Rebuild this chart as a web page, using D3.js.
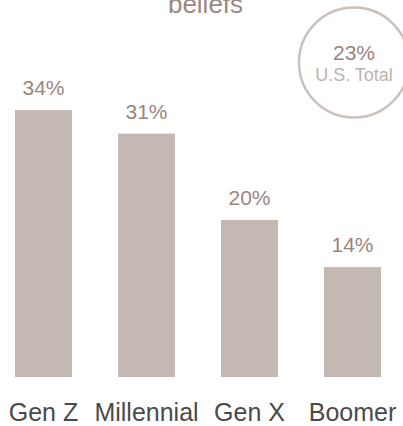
<!DOCTYPE html>
<html>
<head>
<meta charset="utf-8">
<script src="https://cdn.jsdelivr.net/npm/d3@7"></script>
<style>
  body { margin: 0; background: #fff; }
  svg { display: block; font-family: "Liberation Sans", Arial, sans-serif; }
</style>
</head>
<body>
<div id="chart"></div>
<script>
var width = 403;
var height = 426;

// chart data
var generations = ["Gen Z", "Millennial", "Gen X", "Boomer"];
var shares = [34, 31, 20, 14];
var usTotal = 23;
var titleTail = "beliefs";

var svg = d3.select("#chart")
    .append("svg")
    .attr("width", width)
    .attr("height", height);

// scales
var xScale = d3.scaleBand()
    .domain(generations)
    .range([-8, 404])
    .paddingInner(46 / 103)
    .paddingOuter(23 / 103);

var yScale = d3.scaleLinear()
    .domain([0, 40])
    .range([377, 63]);

var rows = generations.map(function(g, i) { return { name: g, value: shares[i] }; });

// title (only the last line is visible)
svg.append("text")
    .attr("x", 205.5)
    .attr("y", 13)
    .attr("text-anchor", "middle")
    .attr("fill", "#9c877f")
    .style("font-size", "26px")
    .text(titleTail);

// bars
svg.selectAll("rect.bar")
    .data(rows)
    .enter()
    .append("rect")
    .attr("class", "bar")
    .attr("x", function(d) { return xScale(d.name); })
    .attr("width", xScale.bandwidth())
    .attr("y", function(d) { return yScale(d.value); })
    .attr("height", function(d) { return yScale(0) - yScale(d.value); })
    .attr("fill", "#c4b8b3");

// value labels
svg.selectAll("text.val")
    .data(rows)
    .enter()
    .append("text")
    .attr("class", "val")
    .attr("x", function(d) { return xScale(d.name) + xScale.bandwidth() / 2; })
    .attr("y", function(d) { return yScale(d.value) - 15; })
    .attr("text-anchor", "middle")
    .attr("fill", "#9a857d")
    .style("font-size", "21px")
    .text(function(d) { return d.value + "%"; });

// category labels
var xAxis = d3.axisBottom(xScale).tickSize(0).tickPadding(0);
var axisG = svg.append("g")
    .attr("transform", "translate(0, 402)")
    .call(xAxis);
axisG.select(".domain").remove();
axisG.selectAll("text")
    .attr("dy", "0.76em")
    .attr("fill", "#4a4a4a")
    .style("font-size", "25px")
    .style("font-family", "\"Liberation Sans\", Arial, sans-serif");

// U.S. total circle
var badge = svg.append("g").attr("transform", "translate(354, 62.5)");
badge.append("circle")
    .attr("r", 55)
    .attr("fill", "none")
    .attr("stroke", "#cbc0bb")
    .attr("stroke-width", 2.5);
badge.append("text")
    .attr("y", -3)
    .attr("text-anchor", "middle")
    .attr("fill", "#9a857d")
    .style("font-size", "21px")
    .text(usTotal + "%");
badge.append("text")
    .attr("y", 18.5)
    .attr("text-anchor", "middle")
    .attr("fill", "#bfb2ac")
    .style("font-size", "18px")
    .text("U.S. Total");
</script>
</body>
</html>
